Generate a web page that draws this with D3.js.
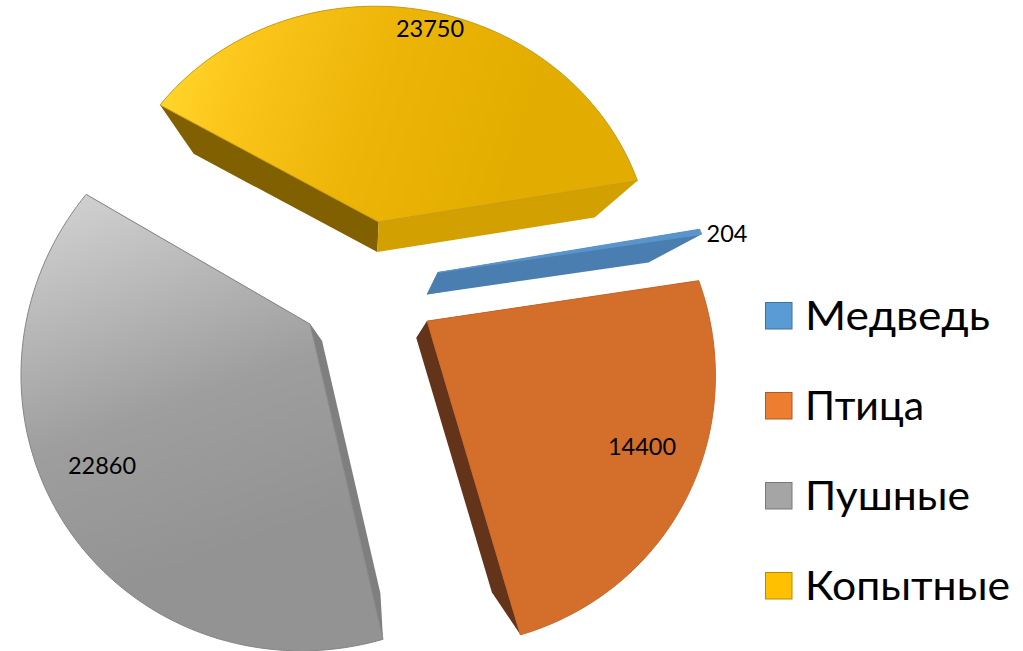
<!DOCTYPE html><html><head><meta charset="utf-8"><style>html,body{margin:0;background:#fff;overflow:hidden}svg{display:block}text{font-family:Lato,"Open Sans","Noto Sans",sans-serif;fill:#000}</style></head><body><script src="https://cdn.jsdelivr.net/npm/d3@7"></script>
<script>
const categories=["Медведь","Птица","Пушные","Копытные"];
const values=[204,14400,22860,23750];
const explode=[0.2585,0.2525,0.2525,0.2460];
const radii=[1,1,1,1.01];
const depths=[0.84,0.81,0.80,0.84];
const legendColors=["#5b9bd5","#ed7d31","#a5a5a5","#ffc000"];
const legendStroke=["#41719c","#ae5a21","#787878","#bc8c00"];
const legendWidths=[185,119,165,205];
const topFills=["#5a94cb","#d36f2b","url(#gGray)","url(#gGold)"];
const topStroke=["#5a94cb","#c8672a","#858585","#c79a12"];
const startFaces=["#4a7eb0","#63331a","#7f7f7f","#806000"];
const endFaces=["#4a7eb0","#63331a","#7f7f7f","#d2a000"];
const labelAnchors=[[727,242],[642,455],[102,474],[430,37]];

// perspective plane fitted to the reference
const hom=[-5.351272,-283.0752,367.355,217.292,37.33638,283.4416,-0.1490306,-0.02744261];
const vanish=[370,410];
const project=([x,y])=>{const w=hom[6]*x+hom[7]*y+1;return[(hom[0]*x+hom[1]*y+hom[2])/w,(hom[3]*x+hom[4]*y+hom[5])/w];};
const lower=([x,y],k)=>[vanish[0]+(x-vanish[0])*k,vanish[1]+(y-vanish[1])*k];
const line=d3.line();
const svg=d3.select("body").append("svg").attr("width",1023).attr("height",651);
const defs=svg.append("defs");
function grad(id,c,stops){const g=defs.append("linearGradient").attr("id",id).attr("gradientUnits","userSpaceOnUse").attr("x1",c[0]).attr("y1",c[1]).attr("x2",c[2]).attr("y2",c[3]);stops.forEach(s=>g.append("stop").attr("offset",s[0]).attr("stop-color",s[1]));}
grad("gGray",[70,190,205,560],[[0,"#d2d2d2"],[.6,"#9e9e9e"],[1,"#939393"]]);
grad("gGold",[165,105,500,215],[[0,"#ffd42a"],[.18,"#fcc51a"],[.55,"#ecb508"],[1,"#e3ad00"]]);

const pie=d3.pie().sort(null)(values);
const slices=svg.append("g").selectAll("g").data(pie).join("g");
slices.each(function(d,i){
  const g=d3.select(this),m=(d.startAngle+d.endAngle)/2,e=explode[i],k=depths[i];
  const at=(t,r)=>project([e*Math.sin(m)+r*Math.sin(t),-e*Math.cos(m)-r*Math.cos(t)]);
  const apex=at(0,0),s=at(d.startAngle,radii[i]),f=at(d.endAngle,radii[i]);
  const rim=d3.range(0,81).map(n=>at(d.startAngle+(d.endAngle-d.startAngle)*n/80,radii[i]));
  g.append("path").attr("d",line([apex,s,lower(s,k),lower(apex,k)])+"Z").attr("fill",startFaces[i]);
  g.append("path").attr("d",line([apex,f,lower(f,k),lower(apex,k)])+"Z").attr("fill",endFaces[i]);
  g.append("path").attr("d",line([apex,...rim])+"Z").attr("fill",topFills[i]).attr("stroke",topStroke[i]).attr("stroke-width",1);
});
svg.append("g").selectAll("text").data(values).join("text")
  .attr("x",(d,i)=>labelAnchors[i][0]).attr("y",(d,i)=>labelAnchors[i][1])
  .attr("text-anchor","middle").attr("font-size",23.5).text(d=>d);
const y=d3.scalePoint().domain(categories).range([316,586]);
const leg=svg.append("g").selectAll("g").data(categories).join("g").attr("transform",d=>`translate(0,${y(d)})`);
leg.append("rect").attr("x",765.5).attr("y",-13.5).attr("width",26.5).attr("height",26.5)
  .attr("fill",(d,i)=>legendColors[i]).attr("stroke",(d,i)=>legendStroke[i]).attr("stroke-width",1);
leg.append("text").attr("x",805).attr("y",14).attr("font-size",41.5)
  .attr("textLength",(d,i)=>legendWidths[i]).attr("lengthAdjust","spacingAndGlyphs").text(d=>d);
</script></body></html>
